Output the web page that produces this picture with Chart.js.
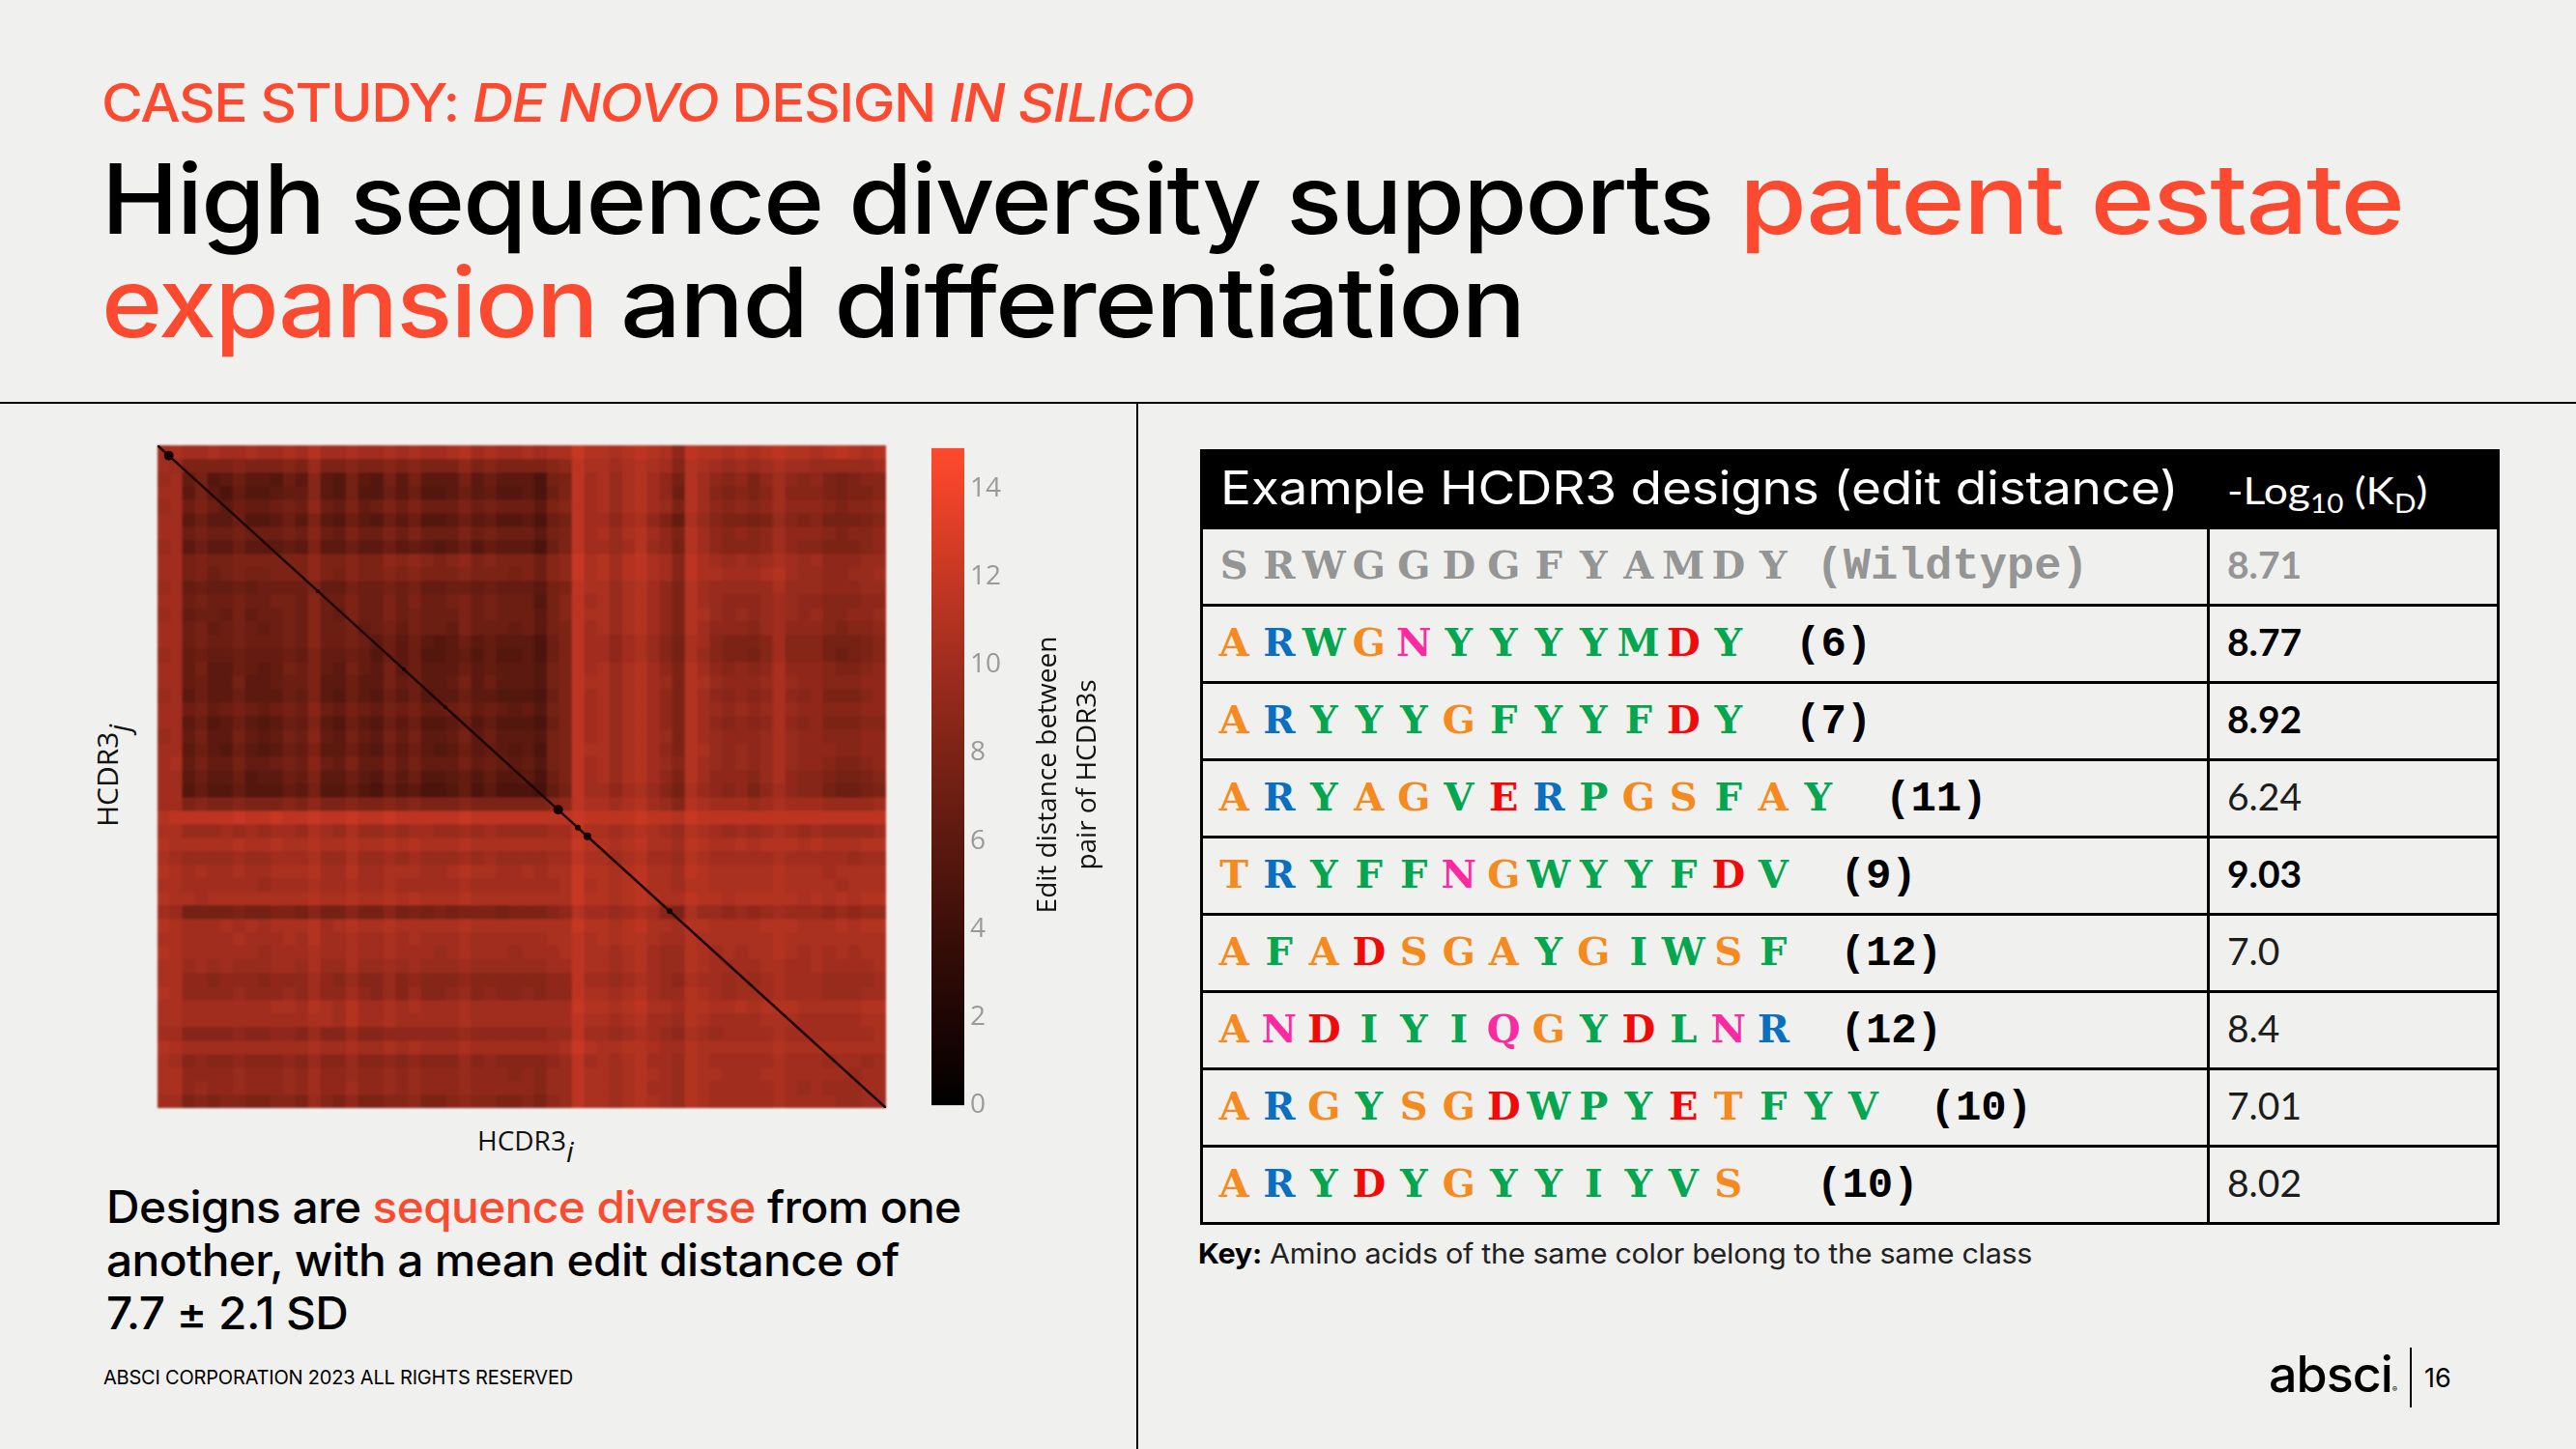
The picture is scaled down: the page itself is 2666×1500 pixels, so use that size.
<!DOCTYPE html>
<html>
<head>
<meta charset="utf-8">
<title>High sequence diversity</title>
<script src="https://cdn.jsdelivr.net/npm/chart.js"></script>
<style>
  html, body { margin: 0; padding: 0; background: #f0f0ee; }
  body { position: relative; width: 2666px; height: 1500px; overflow: hidden; font-family: Inter, sans-serif; color: #000; }
  .abs { position: absolute; white-space: nowrap; transform-origin: left top; }
  .hi { color: #fb4a30; }
  .big { font-size: 100px; line-height: 100px; font-weight: 500; letter-spacing: -1.6px; }
  .rule { position: absolute; background: #000; }
  canvas { position: absolute; display: block; }
  #heatmap { left: 163px; top: 461px; filter: blur(0.9px); }
  #diagonal { left: 163px; top: 461px; filter: blur(0.5px); }
  #colorbar { left: 964px; top: 441px; }
  .side { font-family: "Open Sans", sans-serif; color: #111; }
  .side sub { font-style: italic; font-size: 30px; vertical-align: -12px; line-height: 0; }

  #designs { position: absolute; left: 1242px; top: 465px; width: 1342px; border-collapse: collapse; table-layout: fixed; }
  #designs th { background: #000; color: #fff; height: 77px; padding: 0; text-align: left; font-weight: 400; border: 3px solid #000; white-space: nowrap; }
  #designs th span { display: inline-block; transform-origin: left center; }
  #designs th.seqHead { font-size: 48px; padding-left: 18px; letter-spacing: -0.2px; }
  #designs th.seqHead span { transform: translateY(-2px) scaleX(1.108); }
  #designs th.kdHead { font-family: Lato, sans-serif; font-size: 39px; padding-left: 18px; }
  #designs th.kdHead span { transform: scaleX(1.14); }
  #designs th sub { font-size: 26px; line-height: 0; }
  #designs td { height: 77px; padding: 0; border: 3px solid #000; white-space: nowrap; }
  td.seq { padding-left: 9px !important; }
  .aa { display: inline-block; width: 46.5px; text-align: center; font-family: "DejaVu Serif", serif; font-weight: 700; font-size: 40px; }
  .dist { font-family: "Liberation Mono", monospace; font-weight: 700; font-size: 44px; color: #000; }
  .wild { font-family: "Liberation Mono", monospace; font-weight: 700; font-size: 47px; color: #959595; }
  td.kd { font-family: Lato, sans-serif; font-size: 39px; padding-left: 18px !important; color: #1c1c1c; }
  td.kd span { position: relative; top: -3px; }
  td.kd.strong { font-weight: 700; color: #000; }
  td.kd.wt { font-weight: 700; color: #959595; }
</style>
</head>
<body>

<div class="abs hi" style="left:105px;top:79px;font-size:55px;line-height:55px;font-weight:500;letter-spacing:-1.4px;transform:scaleX(1.065)">CASE STUDY: <i>DE NOVO</i> DESIGN <i>IN SILICO</i></div>
<div class="abs big" style="left:105px;top:156px;transform:scaleX(1.07)">High sequence diversity supports</div>
<div class="abs big hi" style="left:1800px;top:156px;transform:scaleX(1.132)">patent estate</div>
<div class="abs big hi" style="left:105px;top:263px;transform:scaleX(1.075)">expansion</div>
<div class="abs big" style="left:642px;top:263px;transform:scaleX(1.112)">and differentiation</div>

<div class="rule" style="left:0;top:416px;width:2666px;height:2px"></div>
<div class="rule" style="left:1176px;top:416px;width:2px;height:1084px"></div>

<canvas id="heatmap" width="754" height="686"></canvas>
<canvas id="diagonal" width="754" height="686"></canvas>
<canvas id="colorbar" width="100" height="726"></canvas>

<div class="abs side" style="left:494px;top:1160px;font-size:28px;line-height:40px">HCDR3<sub>i</sub></div>
<div class="abs side" style="left:58px;top:783px;font-size:30px;line-height:40px;transform:rotate(-90deg);transform-origin:center">HCDR3<sub>j</sub></div>
<div class="abs side" style="left:943px;top:761px;width:320px;font-size:28px;line-height:41px;text-align:center;transform:rotate(-90deg);transform-origin:center">Edit distance between<br>pair of HCDR3s</div>

<div class="abs" style="left:110px;top:1222px;font-size:46px;line-height:55px;font-weight:500;letter-spacing:-0.6px;transform:scaleX(1.04)">Designs are <span class="hi">sequence diverse</span> from one<br>another, with a mean edit distance of<br>7.7 ± 2.1 SD</div>

<table id="designs"></table>

<div class="abs" style="left:1240px;top:1283px;font-size:29px;line-height:29px;color:#222;letter-spacing:-0.3px;transform:scaleX(1.054)"><b style="color:#000">Key:</b> Amino acids of the same color belong to the same class</div>

<div class="abs" style="left:107px;top:1416px;font-size:20px;line-height:20px;letter-spacing:-0.2px">ABSCI CORPORATION 2023 ALL RIGHTS RESERVED</div>
<div class="abs" style="left:2348px;top:1397px;font-size:52px;line-height:52px;font-weight:500;letter-spacing:-1px">absci<span style="font-size:8px;letter-spacing:0">®</span></div>
<div class="rule" style="left:2494px;top:1395px;width:2px;height:62px"></div>
<div class="abs" style="left:2509px;top:1413px;font-size:27px;line-height:27px">16</div>

<script>
// Table contents
const designSeqs = ['SRWGGDGFYAMDY', 'ARWGNYYYYMDY', 'ARYYYGFYYFDY', 'ARYAGVERPGSFAY', 'TRYFFNGWYYFDV', 'AFADSGAYGIWSF', 'ANDIYIQGYDLNR', 'ARGYSGDWPYETFYV', 'ARYDYGYYIYVS'];
const designDist = ['(Wildtype)', '(6)', '(7)', '(11)', '(9)', '(12)', '(12)', '(10)', '(10)'];
const designKd = ['8.71', '8.77', '8.92', '6.24', '9.03', '7.0', '8.4', '7.01', '8.02'];
const strongKd = [1, 2, 4];

// Amino acid classes
const orangeAA = 'AGST';
const greenAA = 'YWFMILVP';
const redAA = 'DE';
const pinkAA = 'NQ';

// Colorbar
const cmapValues = [0, 2, 4, 6, 8, 10, 12, 14, 15];
const cmapColors = [[0, 0, 0], [30, 6, 4], [60, 15, 9], [92, 25, 15], [125, 35, 22], [160, 45, 30], [198, 56, 35], [240, 68, 42], [255, 74, 46]];
const colorbarMax = 14.92;

// Diagonal: edit distance of a design to itself, darker knots along it
const diagonalPos = [0, 0.0155, 0.22, 0.338, 0.395, 0.55, 0.577, 0.59, 0.703, 1];
const diagonalKnot = [1, 5, 2, 2, 2, 5, 3, 4, 3, 1];

// Edit distance, top row first
const heatRows = [
[10,10.5,10,10,10.5,10,10,10.5,10,10, 10.5,10,11,10,10,10.5,10,10,10.5,10, 10.5,10,10,10.5,11,10,10.5,10,10,10.5, 10,10.5,10.5,12,11,11,10.5,11,11.5,11, 10.5,9,11.5,11,11,10.5,11,10.5,11,11.5, 11,11,10.5,11,11.5,11,10.5,11],
[10,9.5,8,8,8,8,8.5,8,8,8, 8.5,8,9.5,8,8,8.5,8,8,8.5,8, 8.5,8,8,8,9,8,8.5,8,8,8, 8,8.5,9,11.5,10.5,10.5,10,10.5,11,10.5, 10,8.5,11,10.5,10,9.5,10,9.5,10,10.5, 10,10,9.5,9.5,9.5,9.5,9.5,10],
[9.5,10,6.5,7.5,5.5,6,7,6,6,5.5, 7,6,8.5,6,5.5,7.5,6,5.5,7.5,6, 7.5,6,6,6,7.5,6,7,6,6,6, 5,7.5,8,11.5,10,10.5,9.5,10.5,11,10, 9,7.5,11,10,9,8.5,9,8,9,10, 9,8.5,9,8,7.5,8,8.5,8.5],
[10,10,6,7.5,6,5,6.5,5.5,5.5,6, 6.5,6.5,8.5,6,5.5,7.5,5.5,5.5,7,6, 7,5.5,5.5,6,7,6,6.5,5.5,5.5,6, 5,7,8,11.5,10,10.5,9.5,10.5,11,10, 9,7,11,10,8.5,8,8.5,8,8.5,10, 8.5,8.5,8.5,8,7.5,8,8,8.5],
[9.5,10,7,8,7,6,7,6.5,6.5,7, 7.5,7,9,7,6.5,8,6.5,7,8,7, 8,7,7,7,8,7,7.5,7,7,7, 6,8,8.5,11.5,10,10.5,9.5,10.5,11,10, 9.5,8,11,10,9,8.5,9,8.5,9,10, 9,9,9,8.5,8,8.5,8.5,9],
[10,10,6,7,6,6,7,5.5,5.5,6, 7,6,8,6,5.5,7,6,5.5,7,6, 7,5.5,5.5,6,7,6,6.5,5.5,5.5,6, 5,7,7.5,11.5,10,10,9,10,10.5,9, 8,6.5,10.5,9.5,8.5,8,8,7.5,8,9.5, 8.5,8,8.5,7.5,7.5,7.5,8,8.5],
[10,10,7,7.5,7,7,7.5,7,7,7, 7.5,7,8.5,7,6.5,8,7,7,8,7, 8,7,7,7,8,7,7.5,7,7,7, 6,7.5,8,11.5,10,10.5,9.5,10.5,11,10, 9,8,11,10,9,8.5,9,8.5,9,10, 9,9,9,8.5,8,8.5,8.5,9],
[9.5,10,6,7,6,6,7,6,6,6, 6.5,6,8,6,6,7,6,6,7,6, 6.5,6,5.5,6,7,5.5,6.5,6,6,6, 5,7,8,11.5,10,10,9.5,10,11,9.5, 9,7.5,11,10,9,8.5,8.5,8.5,9,10, 9,8.5,8.5,8,8,8,8.5,9],
[10,10,7.5,8,7.5,7.5,8,8,8,8, 8,8,9,8,8,8.5,8,8,9,8.5, 9,8.5,8,8.5,9,8,8.5,8,8,8, 7,8.5,9,12,10.5,11,10,11,11.5,10.5, 10,8.5,11.5,10.5,10,9.5,10,9.5,10,10.5, 10,9.5,10,9,9,9,9.5,9.5],
[10,10,7.5,8,7,7.5,8,7.5,7.5,8, 8,8,9,8,7.5,8.5,8,8,8.5,8, 8.5,8,8,8,8.5,8,8,8,7.5,8, 7,8.5,9,12,10.5,11,10,11,11.5,10.5, 10,8.5,11.5,10.5,10.5,10,10,10,10.5,11, 10,9.5,9.5,9,9,9.5,9.5,10],
[9.5,10,6.5,7,6.5,6.5,7,6.5,7,7, 7,7,8,6.5,6.5,7.5,7,7,7.5,7, 7.5,6.5,6.5,7,7,6.5,7,6.5,6.5,6.5, 6,7.5,8,11.5,10.5,10.5,9.5,10.5,11,10, 9,8,11,10,9.5,9.5,9.5,9.5,9.5,10.5, 9.5,9.5,9.5,9,9,9,9.5,9.5],
[10,10,7,7.5,7,7,7.5,7,7,7.5, 7.5,7,8.5,7,7,8,7,7,8,7, 8,7,7,7.5,8,7,7.5,7,7,7, 5.5,7.5,8.5,11.5,10,10.5,9.5,10.5,11,10, 9,8,11,10,9.5,9,9,9,9.5,10, 9.5,9,9,8.5,8.5,8.5,9,9],
[9.5,10,6.5,7,7,6.5,7.5,6.5,7,7, 7.5,7,8.5,7,6.5,8,7,7,8,7, 7.5,7,7,7,8,7,7.5,7,7,7, 6,7.5,8.5,11.5,10.5,10.5,9.5,10.5,11,10, 9,8,11,10.5,9.5,9,9.5,9,9.5,10, 9.5,9,9.5,8.5,8.5,9,9,9.5],
[10,10,7,7.5,6.5,7,7.5,7,6.5,7, 7.5,7,8.5,7,7,7.5,6.5,7,7.5,6.5, 7.5,7,7,6.5,8,7,7,7,6.5,7, 6,7.5,8,11.5,10,10.5,9.5,10.5,11,10, 9,8,11,10,9,9,9,8.5,9.5,10, 9,9,9,8.5,8,8.5,8.5,9],
[10,10,7,7.5,7,7,7.5,7,7,7, 7.5,7,8.5,7,7,7.5,7,6,7,6, 7,6,5.5,6,7,6,6.5,6,6,6, 5,7,8,11.5,10,10,9,10,10.5,9.5, 8.5,7.5,10.5,10,8.5,8,8,8,8.5,10, 8.5,8.5,8.5,7.5,7.5,7.5,8,8.5],
[9.5,10,6.5,7,6.5,6.5,7,6.5,6.5,6.5, 7,6.5,8,6.5,6.5,7,6.5,5.5,7,6, 7,5.5,5.5,6,6.5,5.5,6.5,5.5,5.5,6, 5,7,8,11.5,10,10,9,10,10.5,9.5, 8.5,7.5,10.5,9.5,8.5,8,8,7.5,8.5,10, 8.5,8.5,8.5,7.5,7,7.5,8,8.5],
[10,10,6.5,7.5,6,6,7,6.5,6,6.5, 7.5,7,8,6.5,6,7.5,6.5,6,7.5,6, 7,6,6,6,7,6,6.5,6,6,6, 5.5,7.5,8,11.5,10,10.5,9.5,10.5,11,10, 9,8,11,10,9,8.5,9,8.5,9,10.5, 9,9,9,8.5,8,8,8.5,9],
[10,10,6.5,7,6,6,7.5,6,6,6.5, 7,7,8,6,6,7,6,6,7.5,6.5, 7,6,6,6.5,7.5,6,7,6,6,6, 5.5,7.5,8,11.5,10.5,10.5,9.5,10.5,11,10, 9.5,8,11,10.5,9.5,9,9,9,9.5,10.5, 9.5,9,9,8.5,8.5,8.5,9,9],
[9.5,10,6,7,6,6,7,6,6,6, 7,6.5,8,6,5.5,7,6,5.5,7,6, 7,5.5,6,6,7,6,6,5.5,5.5,5.5, 5,7,8,11.5,10,10.5,9.5,10.5,11,10, 9,8,11,10,9,8.5,9,8.5,9,10.5, 9,8.5,9,8,8,8,8.5,9],
[10,10,7,7.5,6.5,7,7.5,7,6.5,7, 7.5,7,8.5,7,6.5,7.5,7,6.5,7.5,7, 7.5,6.5,6.5,7,7.5,6.5,7,6.5,6,6.5, 5.5,7.5,8,11.5,10,10.5,9.5,10.5,11,10, 9,8,11,10,9.5,9,9.5,9,9.5,10.5, 9.5,9,9,8.5,8.5,8.5,9,9],
[10,10,6,7,5.5,6,7,6,5.5,6, 7,6.5,8,6,5.5,7,6,5.5,7,6, 7,5.5,5.5,6,7,5.5,6.5,5.5,5.5,5.5, 5,7,8,11.5,10,10.5,9.5,10.5,11,10, 9,8,11,10,9,8.5,9,8.5,9,10.5, 9,8.5,9,8,8,8,8.5,8.5],
[9.5,10,6.5,7.5,6,6,7.5,6.5,6,6.5, 7.5,7,8.5,6.5,6,7.5,6.5,6,7.5,6.5, 7.5,6,6,6.5,7.5,6,7,6,6,6, 5.5,7.5,8,11.5,10,10.5,9.5,10.5,11,10, 9.5,8,11,10,9.5,9,9,9,9.5,10.5, 9.5,9,9,8.5,8.5,8.5,9,9],
[10,10,6,7,6,5.5,7,6,5.5,6, 7,6.5,8,6,6,7,6,5.5,7,6, 7,6,5.5,6,7,6,6.5,6,5.5,6, 5,7.5,8,11.5,10.5,10.5,9.5,10.5,11,10, 9,8,11,10.5,9.5,9,9.5,9,9.5,10.5, 9.5,9,9,9,8.5,8.5,9,9],
[10,10.5,6.5,7.5,6.5,6.5,7.5,6.5,6.5,7, 7.5,7,8.5,7,6.5,8,6.5,6.5,7.5,6.5, 7.5,6.5,6.5,6.5,7.5,6.5,7,6.5,6,6.5, 5.5,7.5,8,11.5,10,10.5,9.5,10.5,11,10, 9.5,8.5,11,10,9.5,9,9.5,9,9.5,10.5, 9.5,9,9,8.5,8,8,8.5,9],
[10,10,6,7,6,6,7,5.5,6,6, 7,6.5,8,6,6,7,6,5.5,7,6, 7,5.5,5.5,6,6.5,5.5,6.5,5.5,5.5,6, 5,7,8,11.5,10,10.5,9.5,10.5,11,10, 9,8,11,10,9,9,9,8.5,9.5,10.5, 9,8.5,8.5,8,7.5,7.5,8,8.5],
[10,10,5.5,6.5,5.5,5.5,6.5,5.5,5.5,5.5, 6.5,6,7.5,5.5,5.5,6.5,5.5,5,6.5,5.5, 6,5,5,5.5,6.5,5,6,5,5,5, 4.5,6.5,7.5,11.5,10,10,9,10,10.5,9.5, 8.5,7.5,10.5,9.5,9,8.5,9,8,9,10, 9,8.5,8.5,7.5,7,7,7.5,8],
[10,10,8,8.5,8,8,8.5,8,8,8, 8.5,8,9,8,8,8.5,8,8,8.5,8, 8.5,8,8,8,8.5,8,8,8,8,8, 8,8.5,9,11.5,10.5,10.5,10,10.5,11,10, 9.5,8.5,11,10.5,10,10,10,9.5,10,10.5, 10,10,10,9.5,9.5,9.5,9.5,10],
[11,11.5,11.5,11.5,11.5,11.5,12,11.5,11.5,12, 11.5,11.5,12,11.5,11.5,12,11.5,11.5,12,11.5, 11.5,11.5,11.5,11.5,12,11.5,11.5,11.5,11.5,11.5, 11.5,11.5,11.5,12,11.5,11.5,11.5,11.5,12,11.5, 11.5,11,12,11.5,11.5,11.5,11.5,11.5,11.5,11.5, 11.5,11.5,11.5,11.5,11.5,11.5,11.5,11.5],
[10.5,10.5,9.5,9.5,9.5,10,9.5,10,9.5,10, 10,9.5,10.5,10,9.5,10.5,9.5,9.5,10,9.5, 10,10,9.5,9.5,10,9.5,10,9.5,9.5,9.5, 9.5,10,10,11.5,10.5,10.5,10,10.5,11,10.5, 10,9.5,11,10.5,10,9.5,10,9.5,10,10.5, 10,9.5,10,9.5,9.5,9.5,9.5,10],
[11,10.5,10.5,10.5,10.5,10.5,11,10.5,10.5,11, 10.5,10.5,11,10.5,10.5,11,10.5,10.5,11,10.5, 11,10.5,10.5,10.5,11,10.5,10.5,10.5,10.5,10.5, 10.5,10.5,10.5,12,11,11,10.5,11,11.5,10.5, 10.5,10,11.5,11,10.5,10.5,11,10.5,11,11, 11,10.5,11,10.5,10.5,10.5,11,11],
[10.5,10,9.5,9.5,9.5,9.5,10,9.5,9.5,10, 10,10,10.5,9.5,9.5,10.5,9.5,9.5,10,9.5, 10,9.5,9.5,9.5,10,9.5,10,9.5,9.5,9.5, 9.5,10,10,11.5,10.5,10.5,10,10.5,11,10, 10,9.5,11,10.5,10,10,10,10,10,10.5, 10,10,10,10,10,9.5,10,10],
[11,10.5,10,10.5,10,10,10.5,10,10,10.5, 10.5,10.5,11,10,10,11,10,10,10.5,10.5, 10.5,10,10,10.5,11,10.5,10.5,10,10,10.5, 10,10.5,10.5,12,11,11,10.5,11,11.5,10.5, 10.5,10,11.5,11,10.5,10.5,10.5,10.5,10.5,11, 10.5,10.5,10.5,10,10.5,10.5,10.5,10.5],
[10.5,10.5,10,10,10,10,10,10,9.5,10, 10,10,10.5,10,10,10.5,10,10,10.5,10, 10,10,10,10,10.5,10,10,10,10,10, 10,10,10.5,12,10.5,11,10.5,11,11.5,10.5, 10.5,10,11,11,10.5,10.5,10.5,10.5,10.5,11, 10.5,10.5,10.5,10.5,10,10.5,10.5,10.5],
[11,10.5,10.5,10,10.5,10.5,10.5,10.5,10.5,10.5, 10.5,10.5,11,10.5,10.5,11,10.5,10.5,11,10.5, 11,10.5,10.5,10.5,11,10.5,10.5,10.5,10.5,10.5, 10.5,10.5,10.5,12,11,11,10.5,11,11.5,11, 10.5,10.5,11.5,11,11,10.5,11,11,11,11, 11,10.5,11,10.5,11,10.5,11,11],
[10,9.5,7.5,7.5,7.5,7.5,8,7.5,7.5,8, 8,7.5,8.5,7.5,7.5,8.5,7.5,7.5,8.5,7.5, 8,7.5,8,7.5,8,8,8,7.5,8,8, 8,8.5,9,11,10,10,9.5,10,10.5,10, 8.5,8,10.5,9.5,9.5,9,9.5,9,9.5,10, 9.5,9.5,9.5,9,9.5,9,9.5,9.5],
[11,10.5,10,10,10,10.5,10,10.5,10,10.5, 10.5,10.5,11,10,10.5,11,10.5,10.5,11,10.5, 10.5,10.5,10.5,10.5,11,10.5,10.5,10.5,10.5,10.5, 10.5,10.5,10.5,12,11,11,10.5,11,11.5,10.5, 10.5,10,11,11,10.5,10.5,10.5,10.5,11,11, 11,10.5,10.5,10.5,11,10.5,11,11],
[10.5,10.5,10,10,10,10,10.5,10,10,10, 10.5,10,11,10,10,10.5,10,10,10.5,10, 10.5,10,10,10,10.5,10,10,10,10,10, 10,10.5,10.5,11.5,10.5,11,10.5,11,11,10.5, 10,10,11,10.5,10.5,10.5,10.5,10.5,10.5,11, 10.5,10.5,10.5,10.5,10.5,10.5,10.5,10.5],
[11,10.5,10,10,10,10,10,10,9.5,10, 10,10,10.5,10,10,10.5,10,10,10.5,10, 10,10,9.5,10,10.5,10,10,10,9.5,10, 10,10,10.5,11.5,10.5,10.5,10,10.5,11,10, 9.5,9.5,11,10.5,10,10.5,10,10.5,10.5,11, 10.5,10,10.5,10,10.5,10,10.5,10.5],
[10.5,10.5,9.5,10,9.5,10,9.5,9.5,9.5,10, 10,9.5,10.5,9.5,9.5,10.5,9.5,9.5,10,9.5, 10,9.5,9.5,9.5,10,9.5,9.5,9.5,9.5,9.5, 9.5,10,10,11.5,10.5,10.5,10,10.5,11,10, 9.5,9.5,11,10.5,10,10,10,10,10.5,10.5, 10,10,10.5,10,10,10,10,10.5],
[10.5,10.5,9,9,8.5,9,9,9,8.5,9, 9,9,10,9,8.5,9.5,8.5,8.5,9.5,8.5, 9,8.5,8.5,8.5,9,8.5,8.5,8.5,8.5,8.5, 8.5,9,9,11.5,10,10,9.5,10,10.5,10, 9.5,9,10.5,10,10,9.5,10,9.5,10,10.5, 10,10,10,9.5,9.5,9.5,9.5,10],
[11,10.5,9,9,9,9,9.5,9,9,9, 9.5,9,10,9,9,10,9,8.5,9.5,8.5, 9.5,8.5,8.5,9,9.5,8.5,9,8.5,8.5,9, 8.5,9,9,11.5,10.5,10.5,10,10.5,11,10, 9.5,9.5,11,10.5,10,9.5,10,10,10,10.5, 10,10,10,9.5,9.5,9.5,10,10],
[10.5,10.5,10,10,10,10,10,10,10,10.5, 10.5,10,11,10.5,10,11,10,10,10.5,10, 10.5,10,10,10,10.5,10,10,10,10,10, 10,10,10,12,11,11,10.5,11,11.5,10.5, 10.5,10,11,11,10.5,10.5,11,10.5,11,11, 11,10.5,10.5,10.5,10.5,10.5,11,11],
[10.5,10.5,10,10,10,10,10,10,10,10, 10,10,10.5,10.5,10,11,10,10,10.5,10, 10,10,10,10,10.5,10,10,10,10,10, 10,10,10,11.5,10.5,10.5,10,10.5,11,10, 10,9.5,11,10.5,10,10,10,10,10.5,10.5, 10.5,10,10,10,10,10,10.5,10.5],
[10,10,8.5,8.5,8.5,8.5,9,8.5,8.5,9, 9,8.5,9.5,8.5,8.5,9.5,8.5,8.5,9,9, 9,9,9,9,9.5,9,9,9,9,9, 9,9.5,9.5,11.5,10,10,9.5,10,10.5,10, 9.5,9,10.5,10,9.5,10,10,10,10,10.5, 10,10,10,10,10,10,10,10.5],
[11,10.5,10,10,10,10,10,10,10,10, 10,10,10.5,10,10,10.5,10,10,10.5,10, 10.5,10,10,10,10.5,10,10,10,10,10, 10,10,10.5,12,11,10.5,10.5,11,11,10.5, 10,10,11,10.5,10.5,10.5,10.5,10.5,10.5,11, 10.5,10.5,10.5,10.5,10.5,10.5,10.5,10.5],
[10.5,10,8.5,9,8.5,8.5,9,8.5,8.5,8.5, 9,8.5,9.5,8.5,8.5,9.5,8.5,8.5,9,8.5, 9,8.5,8.5,8.5,9.5,8.5,9,8.5,8.5,8.5, 8.5,9,9.5,11.5,10,10.5,10,10.5,11,10, 10,9.5,11,10.5,10,10,10,10,10,10.5, 10,10,10,9.5,10,10,9.5,10],
[10.5,10.5,9,9,9,9,9.5,9,9,9, 9.5,9,10,9,9,9.5,9,9,9.5,9, 9.5,9,9,9,9.5,9,9,9,8.5,9, 8.5,9.5,9.5,11.5,10.5,10.5,10,10.5,11,10.5, 10,9.5,11,10.5,10.5,10,10,10,10.5,10.5, 10,10,10,10,10,9.5,10,10],
[10.5,10.5,9,9.5,9,9,9.5,9,9,9, 9.5,9,10,9,9,10,9,9,9.5,9, 9.5,9,9,9,9.5,9,9,9,9,9, 8.5,9.5,9.5,11.5,10.5,10.5,10,10.5,11,10, 10,9.5,11,10.5,10,10,10,10,10,10.5, 10,9.5,10,9.5,9.5,9.5,10,10],
[10,10,8,8.5,8,8.5,8.5,8,8,8.5, 8.5,8,9.5,8.5,8,9,8,8,8.5,8.5, 9,8,8,8.5,9,8.5,8.5,8,8,8.5, 8,9,9.5,11.5,10.5,10.5,10,10.5,11,10.5, 10,9.5,11,10.5,10,10,10,10,10,10.5, 10,10,10,10,9.5,9.5,10,10]
];

function heatColor(v) {
  let i = 0;
  while (i < cmapValues.length - 2 && v > cmapValues[i + 1]) i++;
  const t = (v - cmapValues[i]) / (cmapValues[i + 1] - cmapValues[i]);
  const c = cmapColors[i].map((a, k) => Math.round(a + (cmapColors[i + 1][k] - a) * t));
  return `rgb(${c[0]},${c[1]},${c[2]})`;
}

function aaColor(ch) {
  if (orangeAA.includes(ch)) return '#f58a1f';
  if (greenAA.includes(ch)) return '#06a650';
  if (redAA.includes(ch)) return '#f00a0a';
  if (pinkAA.includes(ch)) return '#fb2aa3';
  return '#0a6fbd';
}

function renderTable() {
  let html = `<colgroup><col style="width:1042px"><col style="width:300px"></colgroup>
    <tr><th class="seqHead"><span>Example HCDR3 designs (edit distance)</span></th><th class="kdHead"><span>-Log<sub>10</sub> (K<sub>D</sub>)</span></th></tr>`;
  designSeqs.forEach((seq, i) => {
    const wild = i === 0;
    const last = i === designSeqs.length - 1;
    const letters = seq.split('').map(ch =>
      `<span class="aa" style="color:${wild ? '#959595' : aaColor(ch)}">${ch}</span>`).join('');
    const gap = wild ? 21 : last ? 68 : 46;
    const label = `<span class="${wild ? 'wild' : 'dist'}" style="margin-left:${gap}px">${designDist[i]}</span>`;
    const kdClass = wild ? 'kd wt' : strongKd.includes(i) ? 'kd strong' : 'kd';
    html += `<tr><td class="seq">${letters}${label}</td><td class="${kdClass}"><span>${designKd[i]}</span></td></tr>`;
  });
  document.getElementById('designs').innerHTML = html;
}

function renderHeatmap() {
  new Chart(document.getElementById('heatmap'), {
    type: 'bar',
    data: {
      labels: heatRows[0].map((_, i) => i),
      datasets: heatRows.map(row => ({
        data: row.map(() => 1),
        backgroundColor: row.map(v => heatColor(v)),
        stack: 'cells',
        barPercentage: 1,
        categoryPercentage: 1,
        borderWidth: 0
      }))
    },
    options: {
      responsive: false,
      animation: false,
      events: [],
      layout: { autoPadding: false },
      plugins: { legend: { display: false }, tooltip: { enabled: false } },
      scales: {
        x: { display: false, stacked: true },
        y: { display: false, stacked: true, reverse: true, min: 0, max: heatRows.length }
      }
    }
  });
}

function renderDiagonal() {
  const cols = heatRows[0].length;
  const rows = heatRows.length;
  new Chart(document.getElementById('diagonal'), {
    type: 'line',
    data: {
      datasets: [{
        data: diagonalPos.map(p => ({ x: p * cols, y: p * rows })),
        borderColor: '#1e0604',
        backgroundColor: '#160403',
        borderWidth: 2.5,
        tension: 0,
        pointRadius: diagonalKnot,
        pointBorderWidth: 0
      }]
    },
    options: {
      responsive: false,
      animation: false,
      events: [],
      layout: { autoPadding: false },
      plugins: { legend: { display: false }, tooltip: { enabled: false } },
      scales: {
        x: { display: false, type: 'linear', min: 0, max: cols },
        y: { display: false, reverse: true, min: 0, max: rows }
      }
    }
  });
}

function renderColorbar() {
  new Chart(document.getElementById('colorbar'), {
    type: 'bar',
    data: {
      labels: ['Edit distance'],
      datasets: [{
        data: [colorbarMax],
        barPercentage: 1,
        categoryPercentage: 1,
        borderWidth: 0,
        backgroundColor(c) {
          const { ctx, chartArea, scales } = c.chart;
          if (!chartArea) return '#000';
          const g = ctx.createLinearGradient(0, scales.y.getPixelForValue(0), 0, scales.y.getPixelForValue(colorbarMax));
          cmapValues.filter(v => v <= colorbarMax).forEach(v => g.addColorStop(v / colorbarMax, heatColor(v)));
          g.addColorStop(1, heatColor(colorbarMax));
          return g;
        }
      }]
    },
    options: {
      responsive: false,
      animation: false,
      events: [],
      layout: { autoPadding: false, padding: { top: 16, bottom: 16 } },
      plugins: { legend: { display: false }, tooltip: { enabled: false } },
      scales: {
        x: { display: false },
        y: {
          position: 'right',
          min: 0,
          max: colorbarMax,
          afterFit(scale) { scale.width = 66; },
          grid: { display: false, drawTicks: false },
          border: { display: false },
          ticks: {
            stepSize: 2,
            includeBounds: false,
            padding: 6,
            color: '#9a9a9a',
            font: { family: 'Open Sans', size: 28 }
          }
        }
      }
    }
  });
}

renderTable();
renderHeatmap();
renderDiagonal();
renderColorbar();
</script>
</body>
</html>
